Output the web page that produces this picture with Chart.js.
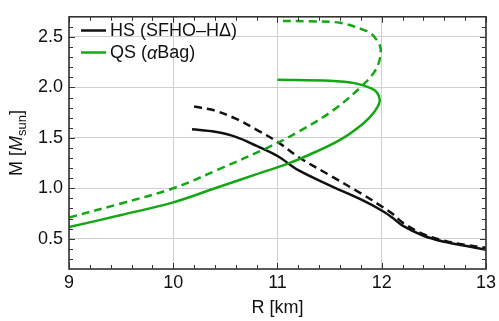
<!DOCTYPE html>
<html>
<head>
<meta charset="utf-8">
<script src="https://cdn.jsdelivr.net/npm/chart.js@4.4.1/dist/chart.umd.min.js"></script>
<style>
  html, body { margin: 0; padding: 0; background: #fff; }
  #wrap { width: 499px; height: 321px; }
</style>
</head>
<body>
<div id="wrap"><canvas id="mrChart"></canvas></div>
<script>
// mass-radius curves (R in km, M in solar masses)
var hsSolidR = [10.18, 10.4, 10.6, 10.8, 11.0, 11.2, 11.5, 11.8, 12.0, 12.1, 12.2, 12.4, 12.6, 12.8, 13.0];
var hsSolidM = [1.585, 1.56, 1.51, 1.42, 1.32, 1.18, 1.03, 0.89, 0.78, 0.71, 0.63, 0.53, 0.47, 0.43, 0.39];

var hsDashR = [10.2, 10.4, 10.6, 10.8, 11.0, 11.2, 11.5, 11.8, 12.0, 12.1, 12.2, 12.4, 12.6, 12.8, 13.0];
var hsDashM = [1.81, 1.77, 1.69, 1.58, 1.46, 1.31, 1.13, 0.95, 0.82, 0.75, 0.66, 0.545, 0.48, 0.44, 0.41];

var qsSolidR = [9.0, 9.5, 10.0, 10.4, 10.8, 11.1, 11.3, 11.6, 11.82, 11.93, 11.98, 11.96, 11.9, 11.75, 11.5, 11.0];
var qsSolidM = [0.615, 0.735, 0.86, 1.0, 1.14, 1.245, 1.33, 1.48, 1.64, 1.76, 1.86, 1.94, 1.99, 2.04, 2.065, 2.075];

var qsDashR = [9.0, 9.5, 10.0, 10.44, 10.92, 11.2, 11.53, 11.82, 11.95, 11.99, 11.93, 11.85, 11.6, 11.3, 11.0];
var qsDashM = [0.71, 0.85, 1.0, 1.19, 1.41, 1.56, 1.77, 2.025, 2.19, 2.38, 2.5, 2.56, 2.64, 2.655, 2.66];

var xTicks = [9, 10, 11, 12, 13];
var yTicks = [0.5, 1.0, 1.5, 2.0, 2.5];
var legendNames = ['HS (SFHO\u2013H\u0394)', 'QS (\u03b1Bag)'];

var black = '#111111';
var green = '#13a813';
var font = '"Liberation Sans", Arial, Helvetica, sans-serif';

function toPoints(xs, ys) {
  return xs.map((x, i) => ({ x: x, y: ys[i] }));
}

function curve(xs, ys, color, dashed) {
  return {
    data: toPoints(xs, ys),
    showLine: true,
    borderColor: color,
    borderWidth: 2.5,
    borderDash: dashed ? [8, 5] : [],
    pointRadius: 0,
    tension: 0.35,
    fill: false
  };
}

// frame, minor ticks, axis titles and legend
const decor = {
  id: 'decor',
  afterDatasetsDraw(chart) {
    const c = chart.ctx;
    const a = chart.chartArea;
    const xs = chart.scales.x, ys = chart.scales.y;
    c.save();
    c.strokeStyle = '#333';
    c.lineWidth = 1;
    // x ticks (top + bottom)
    for (let v = 9; v <= 13.001; v += 0.2) {
      const px = Math.round(xs.getPixelForValue(v)) + 0.5;
      const major = Math.abs(v - Math.round(v)) < 0.01;
      const len = major ? 6 : 4;
      c.beginPath();
      c.moveTo(px, a.bottom); c.lineTo(px, a.bottom - len);
      c.moveTo(px, a.top); c.lineTo(px, a.top + len);
      c.stroke();
    }
    // y ticks (left + right)
    for (let v = 0.3; v <= 2.65; v += 0.1) {
      const py = Math.round(ys.getPixelForValue(v)) + 0.5;
      const major = Math.abs(v * 2 - Math.round(v * 2)) < 0.01;
      const len = major ? 6 : 4;
      c.beginPath();
      c.moveTo(a.left, py); c.lineTo(a.left + len, py);
      c.moveTo(a.right, py); c.lineTo(a.right - len, py);
      c.stroke();
    }
    // frame
    c.lineWidth = 1.6;
    c.strokeRect(a.left, a.top, a.right - a.left, a.bottom - a.top);

    // x title
    c.fillStyle = '#111';
    c.font = '18px ' + font;
    c.textAlign = 'center';
    c.textBaseline = 'alphabetic';
    c.fillText('R [km]', (a.left + a.right) / 2, 313);

    // y title, rotated, with subscript
    c.save();
    c.translate(22, (a.top + a.bottom) / 2);
    c.rotate(-Math.PI / 2);
    const parts = [
      { t: 'M [', f: '18px ' + font, dy: 0 },
      { t: 'M', f: 'italic 18px ' + font, dy: 0 },
      { t: 'sun', f: '13px ' + font, dy: 4 },
      { t: ']', f: '18px ' + font, dy: 0 }
    ];
    let total = 0;
    parts.forEach(p => { c.font = p.f; p.w = c.measureText(p.t).width; total += p.w; });
    let x0 = -total / 2;
    c.textAlign = 'left';
    parts.forEach(p => { c.font = p.f; c.fillText(p.t, x0, p.dy); x0 += p.w; });
    c.restore();

    // legend
    const rows = [
      { y: 30.5, color: black, parts: [{ t: legendNames[0], f: '18px ' + font }] },
      { y: 52.5, color: green, parts: [
        { t: 'QS (', f: '18px ' + font },
        { t: '\u03b1', f: 'italic 18px ' + font },
        { t: 'Bag)', f: '18px ' + font }
      ] }
    ];
    c.textAlign = 'left';
    c.textBaseline = 'middle';
    rows.forEach((r) => {
      c.strokeStyle = r.color;
      c.lineWidth = 2.5;
      c.beginPath();
      c.moveTo(81, r.y); c.lineTo(106, r.y);
      c.stroke();
      let tx = 110;
      c.fillStyle = '#111';
      r.parts.forEach(p => { c.font = p.f; c.fillText(p.t, tx, r.y + 1); tx += c.measureText(p.t).width; });
    });
    c.restore();
  }
};

const ctx = document.getElementById('mrChart');
const mrChart = new Chart(ctx, {
  type: 'scatter',
  data: {
    datasets: [
      curve(qsDashR, qsDashM, green, true),
      curve(qsSolidR, qsSolidM, green, false),
      curve(hsDashR, hsDashM, black, true),
      curve(hsSolidR, hsSolidM, black, false)
    ]
  },
  options: {
    responsive: true,
    maintainAspectRatio: false,
    animation: false,
    layout: { padding: { top: 10, right: 12, left: 0, bottom: 0 } },
    plugins: {
      legend: { display: false },
      tooltip: { enabled: false }
    },
    scales: {
      x: {
        type: 'linear',
        min: 9,
        max: 13,
        afterBuildTicks: (s) => { s.ticks = xTicks.map(v => ({ value: v })); },
        afterFit: (s) => { s.height = 52; },
        ticks: {
          padding: 3,
          color: '#111',
          font: { size: 18, family: font },
          callback: (v) => String(v)
        },
        grid: { color: '#cfcfcf', lineWidth: 1, drawTicks: false },
        border: { display: false }
      },
      y: {
        type: 'linear',
        min: 0.2,
        max: 2.7,
        afterBuildTicks: (s) => { s.ticks = yTicks.map(v => ({ value: v })); },
        afterFit: (s) => { s.width = 69; },
        ticks: {
          padding: 6,
          color: '#111',
          font: { size: 18, family: font },
          callback: (v) => Number(v).toFixed(1)
        },
        grid: { color: '#cfcfcf', lineWidth: 1, drawTicks: false },
        border: { display: false }
      }
    }
  },
  plugins: [decor]
});
</script>
</body>
</html>
